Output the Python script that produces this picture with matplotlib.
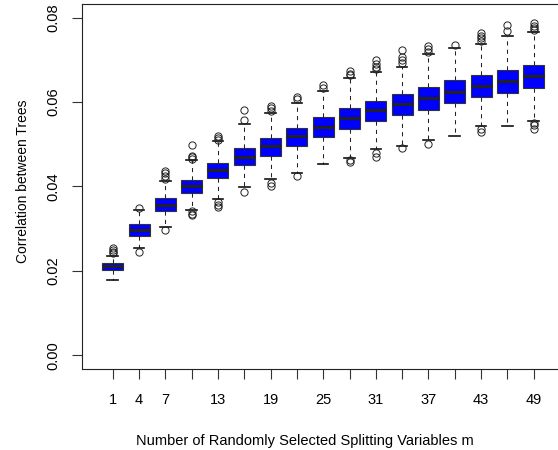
import matplotlib
matplotlib.use('Agg')
import matplotlib.pyplot as plt

plt.rcParams['font.family'] = ['Liberation Sans', 'DejaVu Sans']

# m values for each box
m_values = [1, 4, 7, 10, 13, 16, 19, 22, 25, 28, 31, 34, 37, 40, 43, 46, 49]
shown_labels = [1, 4, 7, 13, 19, 25, 31, 37, 43, 49]

# box statistics
medians = [0.0211, 0.0297, 0.0356, 0.0400, 0.0438, 0.0470, 0.0495, 0.0519,
           0.0542, 0.0562, 0.0580, 0.0596, 0.0610, 0.0624, 0.0638, 0.0650, 0.0661]
q1 = [0.0202, 0.0284, 0.0341, 0.0384, 0.0421, 0.0450, 0.0473, 0.0497,
      0.0517, 0.0536, 0.0556, 0.0569, 0.0582, 0.0597, 0.0611, 0.0621, 0.0632]
q3 = [0.0218, 0.0311, 0.0372, 0.0416, 0.0455, 0.0490, 0.0514, 0.0539,
      0.0564, 0.0585, 0.0602, 0.0619, 0.0635, 0.0651, 0.0664, 0.0676, 0.0687]
whisk_lo = [0.0178, 0.0254, 0.0303, 0.0345, 0.0370, 0.0398, 0.0418, 0.0433,
            0.0453, 0.0467, 0.0489, 0.0497, 0.0511, 0.0520, 0.0543, 0.0543, 0.0554]
whisk_hi = [0.0235, 0.0345, 0.0412, 0.0463, 0.0507, 0.0547, 0.0574, 0.0598,
            0.0626, 0.0657, 0.0671, 0.0683, 0.0713, 0.0727, 0.0738, 0.0756, 0.0766]
outliers = [
    [0.0242, 0.0245, 0.0250, 0.0254],
    [0.0244, 0.0348],
    [0.0297, 0.0418, 0.0425, 0.0432, 0.0437],
    [0.0341, 0.0336, 0.0332, 0.0465, 0.0470, 0.0473, 0.0499],
    [0.0364, 0.0357, 0.0351, 0.0511, 0.0515, 0.0520],
    [0.0388, 0.0558, 0.0582],
    [0.0408, 0.0400, 0.0578, 0.0585, 0.0590],
    [0.0424, 0.0606, 0.0611],
    [0.0634, 0.0640],
    [0.0463, 0.0458, 0.0663, 0.0667, 0.0673],
    [0.0479, 0.0470, 0.0677, 0.0683, 0.0690, 0.0700],
    [0.0491, 0.0693, 0.0700, 0.0707, 0.0724],
    [0.0501, 0.0718, 0.0725, 0.0733],
    [0.0735],
    [0.0535, 0.0530, 0.0745, 0.0752, 0.0757, 0.0764],
    [0.0768, 0.0782],
    [0.0551, 0.0545, 0.0536, 0.0770, 0.0775, 0.0780, 0.0788],
]

stats = []
for i in range(len(m_values)):
    stats.append(dict(med=medians[i], q1=q1[i], q3=q3[i],
                      whislo=whisk_lo[i], whishi=whisk_hi[i],
                      fliers=outliers[i]))

fig = plt.figure(figsize=(5.58, 4.5), dpi=100)
# right edge of the frame runs past the picture, as in the reference
ax = fig.add_axes([81.7/558, 81/450, 483/558, 365/450])

pos = list(range(1, len(m_values) + 1))
ax.bxp(stats, positions=pos, widths=0.8, patch_artist=True,
       boxprops=dict(facecolor='#0000ff', edgecolor='#333333', linewidth=0.8),
       medianprops=dict(color='#222222', linewidth=2.2),
       whiskerprops=dict(color='#222222', linewidth=0.75, linestyle=(0, (4, 4))),
       capprops=dict(color='#111111', linewidth=1.2),
       capwidths=0.4,
       flierprops=dict(marker='o', markersize=5.2, markerfacecolor='none',
                       markeredgecolor='#222222', markeredgewidth=0.7))

ax.set_xlim(0.5 - 0.04*17, 17.5 + 0.04*17)
ax.set_ylim(-0.0032, 0.0832)

ax.set_xticks(pos)
ax.set_xticklabels([str(m) if m in shown_labels else '' for m in m_values])
ax.set_yticks([0.0, 0.02, 0.04, 0.06, 0.08])
ax.set_yticklabels(['0.00', '0.02', '0.04', '0.06', '0.08'], rotation=90, va='center')
ax.tick_params(length=7, width=0.8, labelsize=10.5, color='#333333')
ax.tick_params(axis='x', pad=10)
ax.tick_params(axis='y', pad=8)

for s in ax.spines.values():
    s.set_linewidth(0.8)
    s.set_color('#222222')

ax.set_xlabel('Number of Randomly Selected Splitting Variables m', fontsize=10.5)
ax.set_ylabel('Correlation between Trees', fontsize=10)
ax.xaxis.set_label_coords(0.462, -0.177)
ax.yaxis.set_label_coords(-0.107, 0.514)

fig.savefig('out.png', dpi=100)
